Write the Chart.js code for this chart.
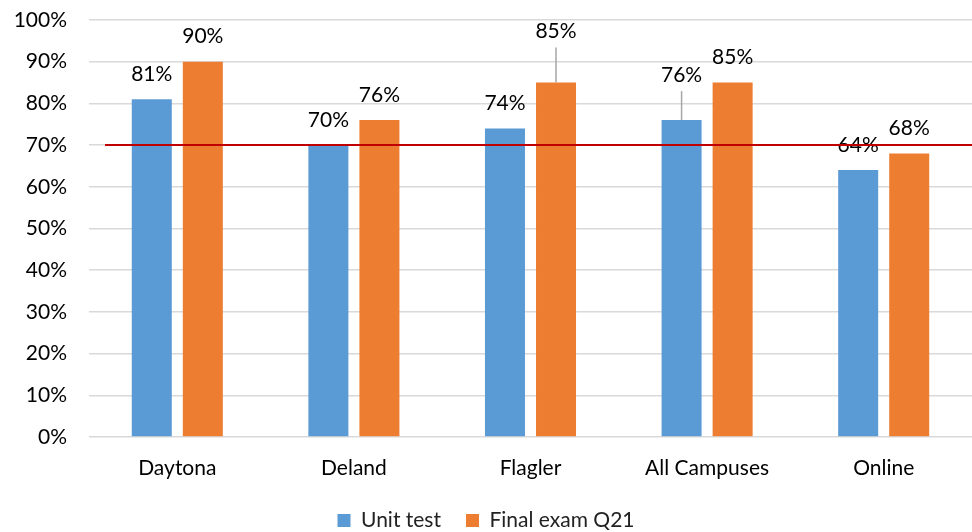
<!DOCTYPE html>
<html>
<head>
<meta charset="utf-8">
<script src="https://cdn.jsdelivr.net/npm/chart.js@4/dist/chart.umd.min.js"></script>
<style>
  html, body { margin: 0; padding: 0; background: #fff; }
  #wrap { width: 972px; height: 532px; }
</style>
</head>
<body>
<div id="wrap"><canvas id="bars"></canvas></div>
<script>
const campuses = ['Daytona', 'Deland', 'Flagler', 'All Campuses', 'Online'];
const unitTest = [81, 70, 74, 76, 64];
const finalExam = [90, 76, 85, 85, 68];
const target = 70;
const yTicks = [0, 10, 20, 30, 40, 50, 60, 70, 80, 90, 100];

const FONT = 'Lato, "Open Sans", sans-serif';

// extra lift for a few labels (dataset index -> point index -> px), with a leader line
const lifts = { 1: { 2: 26 }, 0: { 3: 20 } };

const labelPlugin = {
    id: 'barLabels',
    afterDatasetsDraw(chart) {
        const ctx = chart.ctx;
        ctx.save();
        ctx.font = '21px ' + FONT;
        ctx.textAlign = 'center';
        ctx.textBaseline = 'middle';
        chart.data.datasets.forEach((ds, di) => {
            const meta = chart.getDatasetMeta(di);
            meta.data.forEach((bar, i) => {
                const lift = (lifts[di] && lifts[di][i]) || 0;
                const y = bar.y - 25 - lift;
                if (lift) {
                    ctx.strokeStyle = '#a6a6a6';
                    ctx.lineWidth = 1.5;
                    ctx.beginPath();
                    ctx.moveTo(bar.x, bar.y);
                    ctx.lineTo(bar.x, y + 16);
                    ctx.stroke();
                }
                ctx.fillStyle = '#000';
                ctx.fillText(ds.data[i] + '%', bar.x, y);
            });
        });
        ctx.restore();
    }
};

const targetPlugin = {
    id: 'targetLine',
    afterDatasetsDraw(chart) {
        const y = chart.scales.y.getPixelForValue(target);
        const ctx = chart.ctx;
        ctx.save();
        ctx.strokeStyle = '#c00000';
        ctx.lineWidth = 2;
        ctx.beginPath();
        ctx.moveTo(chart.chartArea.left + 16, y);
        ctx.lineTo(chart.chartArea.right, y);
        ctx.stroke();
        ctx.restore();
    }
};

new Chart(document.getElementById('bars'), {
    type: 'bar',
    data: {
        labels: campuses,
        datasets: [
            { label: 'Unit test', data: unitTest, backgroundColor: '#5b9bd5' },
            { label: 'Final exam Q21', data: finalExam, backgroundColor: '#ed7d31' }
        ]
    },
    options: {
        responsive: true,
        maintainAspectRatio: false,
        animation: false,
        categoryPercentage: 0.578,
        barPercentage: 0.784,
        layout: { padding: 0 },
        plugins: {
            legend: {
                position: 'bottom',
                maxHeight: 47,
                labels: {
                    font: { family: FONT, size: 21 },
                    color: '#222',
                    boxWidth: 13,
                    boxHeight: 13,
                    padding: 25
                }
            },
            tooltip: { enabled: false }
        },
        scales: {
            x: {
                afterFit: axis => { axis.height = 48; },
                grid: { display: false },
                border: { display: false },
                ticks: { font: { family: FONT, size: 21 }, color: '#000', padding: 11 }
            },
            y: {
                min: 0,
                max: 100,
                afterBuildTicks: axis => { axis.ticks = yTicks.map(v => ({ value: v })); },
                afterFit: axis => { axis.width = 89; axis.paddingTop = 20; },
                grid: { color: '#d9d9d9', lineWidth: 1.5, drawTicks: false },
                border: { display: false },
                ticks: {
                    font: { family: FONT, size: 21 },
                    color: '#000',
                    padding: 22,
                    callback: v => v + '%'
                }
            }
        }
    },
    plugins: [labelPlugin, targetPlugin]
});
</script>
</body>
</html>
